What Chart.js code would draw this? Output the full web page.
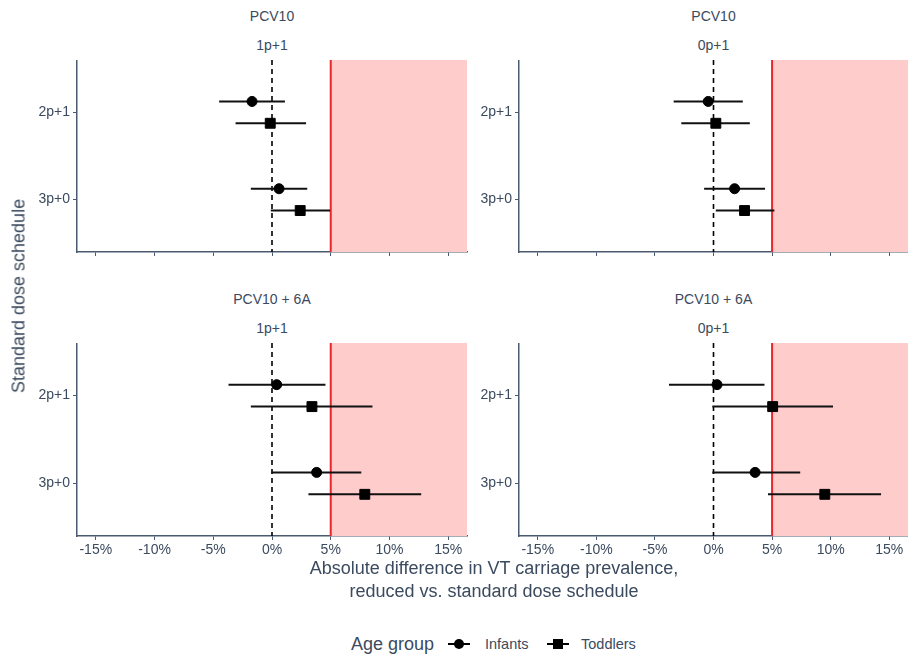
<!DOCTYPE html>
<html>
<head>
<meta charset="utf-8">
<script src="https://cdn.jsdelivr.net/npm/chart.js@4"></script>
<style>
  body { margin: 0; background: #fff; font-family: "Liberation Sans", Arial, sans-serif; color: #3b4a5e; }
  #wrap { position: relative; width: 908px; height: 657px; overflow: hidden; }
  canvas { position: absolute; }
  .lbl { position: absolute; white-space: nowrap; transform: translate(-50%, -50%); }
  .strip { font-size: 14px; }
  .title { font-size: 18px; text-align: center; line-height: 23px; }
  .legend { font-size: 14.5px; transform: translate(0, -50%); }
  .legend.head { font-size: 18px; }
  .key { position: absolute; width: 22px; height: 14px; transform: translate(0, -50%); }
  .key::before { content: ""; position: absolute; left: 0; right: 0; top: 6px; height: 2px; background: #000; }
  .key span { position: absolute; left: 6px; top: 2px; width: 10px; height: 10px; background: #000; }
  .key.circle span { border-radius: 50%; }
</style>
</head>
<body>
<div id="wrap"></div>
<script>
// ---------- data (percentage points)

const xTicks = [-15, -10, -5, 0, 5, 10, 15];
const schedules = ["2p+1", "3p+0"];
const ageGroups = ["Infants", "Toddlers"];
const vaccineLabels = ["PCV10", "PCV10", "PCV10 + 6A", "PCV10 + 6A"];
const reducedLabels = ["1p+1", "0p+1", "1p+1", "0p+1"];
const margin = 5;

// [estimate, lower, upper] for 2p+1 then 3p+0
const pcv10_1p1_infants = [[-1.7, -4.5, 1.1], [0.6, -1.8, 3.0]];
const pcv10_1p1_toddlers = [[-0.15, -3.1, 2.9], [2.4, -0.1, 4.95]];
const pcv10_0p1_infants = [[-0.45, -3.4, 2.5], [1.8, -0.8, 4.4]];
const pcv10_0p1_toddlers = [[0.2, -2.75, 3.1], [2.65, 0.2, 5.2]];
const pcv6a_1p1_infants = [[0.4, -3.7, 4.55], [3.8, -0.05, 7.6]];
const pcv6a_1p1_toddlers = [[3.4, -1.8, 8.55], [7.9, 3.1, 12.7]];
const pcv6a_0p1_infants = [[0.3, -3.8, 4.35], [3.55, -0.1, 7.4]];
const pcv6a_0p1_toddlers = [[5.05, -0.1, 10.2], [9.5, 4.65, 14.3]];

const panelData = [
  [pcv10_1p1_infants, pcv10_1p1_toddlers],
  [pcv10_0p1_infants, pcv10_0p1_toddlers],
  [pcv6a_1p1_infants, pcv6a_1p1_toddlers],
  [pcv6a_0p1_infants, pcv6a_0p1_toddlers]
];

// ---------- layout

const textColor = "#3b4a5e";
const axisColor = "#4a5a70";
const font = "'Liberation Sans', Arial, sans-serif";
const dodge = [-0.125, 0.125];
const shapes = ["circle", "rect"];
const pointSizes = [5, 7];

// plot areas: [left, top, right, bottom]
const panels = [
  [77, 60, 467, 252],
  [519, 60, 908, 252],
  [77, 343, 467, 536],
  [519, 343, 908, 536]
];

const wrap = document.getElementById("wrap");

function addLabel(text, x, y, cls) {
  const d = document.createElement("div");
  d.className = "lbl " + cls;
  d.style.left = x + "px";
  d.style.top = y + "px";
  d.textContent = text;
  wrap.appendChild(d);
  return d;
}

const shadePlugin = {
  id: "shade",
  beforeDatasetsDraw(chart) {
    const { ctx, chartArea, scales } = chart;
    const x5 = scales.x.getPixelForValue(margin);
    ctx.save();
    ctx.fillStyle = "#ffcccc";
    ctx.fillRect(x5, chartArea.top, chartArea.right - x5, chartArea.bottom - chartArea.top);
    ctx.restore();
  }
};

panels.forEach((p, i) => {
  const [left, top, right, bottom] = p;
  const axisW = 77, axisH = 30;
  const padR = i % 2 === 0 ? 10 : 0;
  const cv = document.createElement("canvas");
  const cLeft = left - axisW;
  const cW = right + padR - cLeft;
  const cH = bottom - top + axisH;
  cv.width = cW; cv.height = cH;
  cv.style.left = cLeft + "px";
  cv.style.top = top + "px";
  cv.style.width = cW + "px";
  cv.style.height = cH + "px";
  wrap.appendChild(cv);

  const cx = (left + right) / 2;
  addLabel(vaccineLabels[i], cx, top - 44, "strip");
  addLabel(reducedLabels[i], cx, top - 15, "strip");

  const showX = i >= 2;
  const datasets = [];

  // points
  ageGroups.forEach((g, gi) => {
    datasets.push({
      label: g,
      data: schedules.map((s, si) => ({ x: panelData[i][gi][si][0], y: si + 1 + dodge[gi] })),
      pointStyle: shapes[gi],
      pointRadius: pointSizes[gi],
      backgroundColor: "#000",
      borderColor: "#000",
      borderWidth: 1,
      order: 0
    });
  });

  // confidence intervals
  ageGroups.forEach((g, gi) => {
    schedules.forEach((s, si) => {
      const row = panelData[i][gi][si];
      const y = si + 1 + dodge[gi];
      datasets.push({
        data: [{ x: row[1], y: y }, { x: row[2], y: y }],
        showLine: true,
        borderColor: "#111",
        borderWidth: 2,
        pointRadius: 0,
        order: 1
      });
    });
  });

  // reference lines at 0 and margin
  datasets.push({
    data: [{ x: 0, y: 0.4 }, { x: 0, y: 2.6 }],
    showLine: true, borderColor: "#000", borderWidth: 1.6, borderDash: [5, 4],
    pointRadius: 0, order: 2
  });
  datasets.push({
    data: [{ x: margin, y: 0.4 }, { x: margin, y: 2.6 }],
    showLine: true, borderColor: "#e8262b", borderWidth: 2,
    pointRadius: 0, order: 2
  });

  new Chart(cv, {
    type: "scatter",
    data: { datasets },
    plugins: [shadePlugin],
    options: {
      responsive: false,
      animation: false,
      layout: { autoPadding: false, padding: { left: 0, top: 0, right: padR, bottom: 0 } },
      plugins: { legend: { display: false }, tooltip: { enabled: false } },
      scales: {
        x: {
          type: "linear",
          min: -16.6,
          max: 16.6,
          afterBuildTicks: s => { s.ticks = xTicks.map(v => ({ value: v })); },
          afterFit: s => { s.height = axisH; s.paddingLeft = 0; s.paddingRight = 0; },
          grid: { drawOnChartArea: false, drawTicks: true, tickLength: 4, color: axisColor },
          border: { display: true, color: axisColor, width: 1.5 },
          ticks: {
            display: showX,
            padding: 2,
            color: textColor,
            font: { family: font, size: 14 },
            maxRotation: 0,
            callback: v => v + "%"
          }
        },
        y: {
          type: "linear",
          min: 0.4,
          max: 2.6,
          reverse: true,
          afterBuildTicks: s => { s.ticks = schedules.map((c, k) => ({ value: k + 1 })); },
          afterFit: s => { s.width = axisW; s.paddingTop = 0; s.paddingBottom = 0; },
          grid: { drawOnChartArea: false, drawTicks: true, tickLength: 4, color: axisColor },
          border: { display: true, color: axisColor, width: 1.5 },
          ticks: {
            padding: 3,
            color: textColor,
            font: { family: font, size: 14 },
            callback: v => schedules[Math.round(v) - 1]
          }
        }
      }
    }
  });
});

// shared axis titles
const xt = addLabel("", 494, 580, "title");
xt.innerHTML = "Absolute difference in VT carriage prevalence,<br>reduced vs. standard dose schedule";
const yt = addLabel("Standard dose schedule", 19, 296, "title");
yt.style.transform = "translate(-50%, -50%) rotate(-90deg)";

// legend
const legendY = 644;
const head = document.createElement("div");
head.className = "lbl legend head";
head.style.left = "351px"; head.style.top = legendY + "px";
head.textContent = "Age group";
wrap.appendChild(head);
const keyX = [448, 547];
const textX = [485, 581];
ageGroups.forEach((g, gi) => {
  const k = document.createElement("div");
  k.className = "key " + (gi === 0 ? "circle" : "square");
  k.style.left = keyX[gi] + "px"; k.style.top = legendY + "px";
  k.innerHTML = "<span></span>";
  wrap.appendChild(k);
  const t = document.createElement("div");
  t.className = "lbl legend";
  t.style.left = textX[gi] + "px"; t.style.top = legendY + "px";
  t.textContent = g;
  wrap.appendChild(t);
});
</script>
</body>
</html>
